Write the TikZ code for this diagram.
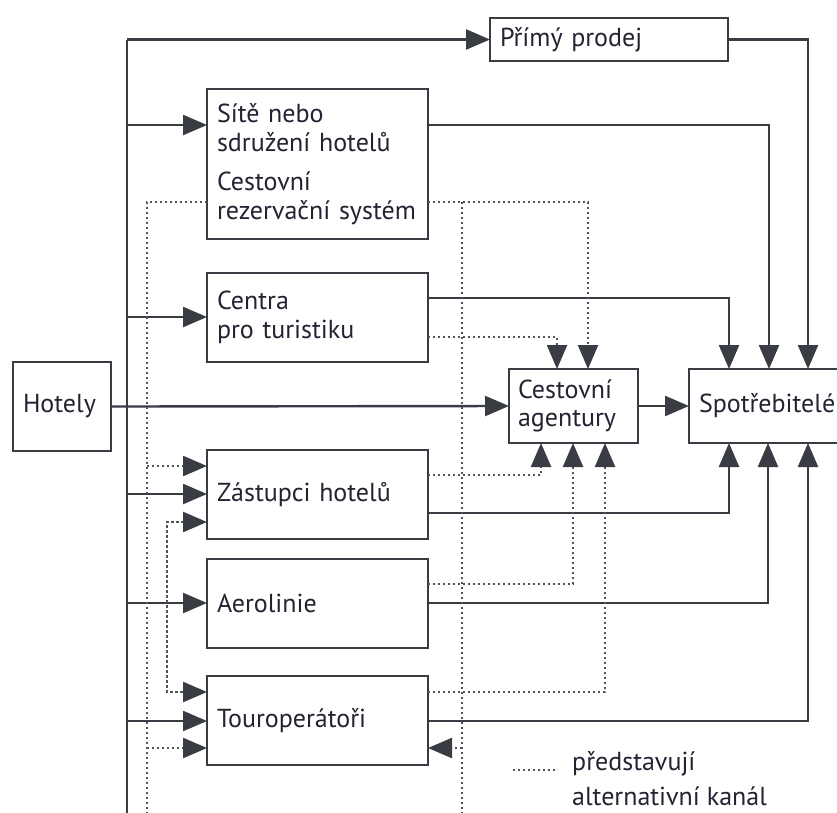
\documentclass[tikz,border=0pt]{standalone}
\usepackage{fontspec}
\setmainfont{PT Sans}
\usetikzlibrary{arrows.meta}
\definecolor{lc}{RGB}{58,60,68}
\definecolor{dc}{RGB}{80,83,92}
\definecolor{tc}{RGB}{34,36,50}
\tikzset{
  box/.style={draw=lc, line width=2.5pt, fill=white, inner xsep=10pt, inner ysep=0pt,
    outer sep=0pt, anchor=north west, align=left, text=tc,
    font=\fontsize{26}{28.5}\selectfont},
  wire/.style={draw=lc, line width=2.4pt},
  alt/.style={draw=dc, line width=2.4pt, dash pattern=on 2.2pt off 2.8pt},
  tip/.style={-{Triangle[length=24pt,width=20pt,color=lc]}},
  tipboth/.style={{Triangle[length=24pt,width=20pt,color=lc]}-{Triangle[length=24pt,width=20pt,color=lc]}},
}
\begin{document}
\begin{tikzpicture}[x=1pt,y=-1pt]
\useasboundingbox (0,0) rectangle (837,812);
% boxes
\node[box, minimum width=238pt, minimum height=43pt, text width=218pt] (prime) at (490,18) {Přímý prodej};
\node[box, minimum width=221pt, minimum height=150pt, text width=201pt] (site) at (207,89)
  {Sítě nebo\\sdružení hotelů\\[11pt]Cestovní\\rezervační systém};
\node[box, minimum width=221pt, minimum height=89pt, text width=201pt] (centra) at (207,273)
  {Centra\\pro turistiku};
\node[box, minimum width=98pt, minimum height=89pt, text width=78pt] (hotely) at (13,362) {Hotely};
\node[box, minimum width=129pt, minimum height=74pt, text width=111pt, inner xsep=9pt] (ca) at (509,369)
  {Cestovní\\agentury};
\node[box, minimum width=190pt, minimum height=74pt, text width=170pt] (spotr) at (689,369) {Spotřebitelé};
\node[box, minimum width=221pt, minimum height=89pt, text width=201pt] (zast) at (207,450) {Zástupci hotelů};
\node[box, minimum width=221pt, minimum height=89pt, text width=201pt] (aero) at (207,559) {Aerolinie};
\node[box, minimum width=221pt, minimum height=89pt, text width=201pt] (tour) at (207,676) {Touroperátoři};
% legend
\node[anchor=base west, inner sep=0pt, text depth=0pt, align=left, text=tc, font=\fontsize{26}{35}\selectfont] (legend) at (572,805)
  {představují\\alternativní kanál};
\coordinate (lg1) at (513,770);
\coordinate (lg2) at (558,770);
\draw[alt] (lg1) -- (lg2);
% bus
\coordinate (bustop) at (127,39.5);
\coordinate (busbot) at (127,830);
\draw[wire] (bustop) -- (busbot);
\draw[wire,tip] (bustop) -- (prime.west);
\draw[wire,tip] (127,125) -- (site.west |- 0,125);
\draw[wire,tip] (127,317) -- (centra.west |- 0,317);
\draw[wire,tip] (127,494) -- (zast.west |- 0,494);
\draw[wire,tip] (127,603) -- (aero.west |- 0,603);
\draw[wire,tip] (127,721) -- (tour.west |- 0,721);
\draw[wire,tip] (hotely.east) -- (ca.west);
\draw[wire,tip] (ca.east) -- (spotr.west);
% to consumers
\draw[wire,tip] (prime.east) -| (808,0 |- spotr.north);
\draw[wire,tip] (site.east |- 0,125) -| (769,0 |- spotr.north);
\draw[wire,tip] (centra.east |- 0,298) -| (729,0 |- spotr.north);
\draw[wire,tip] (zast.east |- 0,513) -| (729,0 |- spotr.south);
\draw[wire,tip] (aero.east |- 0,603) -| (768,0 |- spotr.south);
\draw[wire,tip] (tour.east |- 0,721) -| (808,0 |- spotr.south);
% alternative channels
\draw[alt] (site.west |- 0,202) -| (147,830);
\draw[alt,tip] (147,466) -- (zast.west |- 0,466);
\draw[alt,tip] (147,748) -- (tour.west |- 0,748);
\draw[alt,tip] (site.east |- 0,202) -| (588,0 |- ca.north);
\draw[alt] (462,202) -- (462,830);
\draw[alt,tip] (462,748) -- (tour.east |- 0,748);
\draw[alt,tip] (centra.east |- 0,337) -| (557,0 |- ca.north);
\draw[alt,tip] (zast.east |- 0,475) -| (541,0 |- ca.south);
\draw[alt,tip] (aero.east |- 0,584) -| (573,0 |- ca.south);
\draw[alt,tip] (tour.east |- 0,692) -| (605,0 |- ca.south);
\draw[alt,tipboth] (zast.west |- 0,522) -| (167,607) |- (tour.west |- 0,692);
\end{tikzpicture}
\end{document}
